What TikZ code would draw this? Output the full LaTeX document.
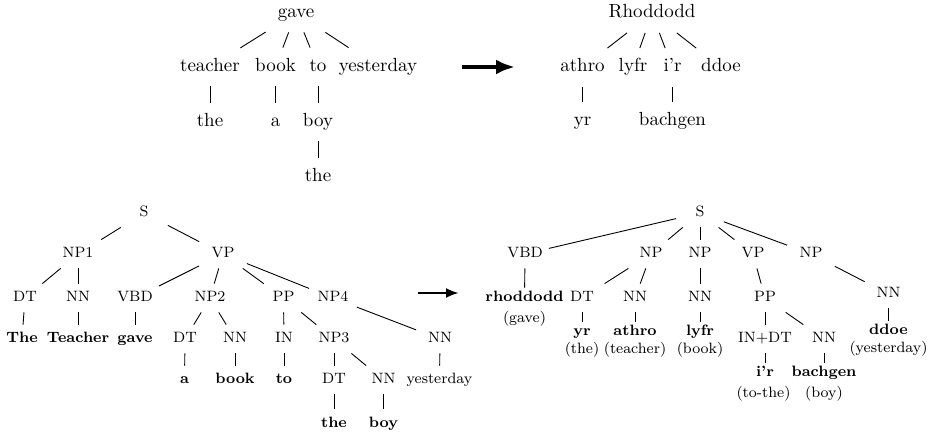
\documentclass[tikz,border=0pt]{standalone}
\usepackage{fontspec}
\usetikzlibrary{arrows.meta}
\begin{document}
\begin{tikzpicture}[x=0.5pt,y=-0.5pt,
  edge/.style={line width=0.45pt},
  tw/.style={font=\fontsize{9.5}{11}\selectfont, anchor=base, text height=7.25pt, text depth=2.75pt,
             inner ysep=4.5pt, inner xsep=0pt, minimum width=30pt},
  lw/.style={font=\fontsize{7.5}{9}\selectfont, anchor=base, text height=5.5pt, text depth=1.5pt,
             inner ysep=3.5pt, inner xsep=0pt, minimum width=23.5pt},
  lb/.style={lw, font=\fontsize{7.5}{9}\selectfont\bfseries},
  wd/.style={lb, text height=3.5pt},
  gl/.style={font=\fontsize{7.5}{9}\selectfont, anchor=base, inner sep=0pt},
  bigarrow/.style={line width=1.9pt, -{Latex[length=9.5pt,width=7.5pt]}},
  smallarrow/.style={line width=1.3pt, -{Latex[length=6.5pt,width=5pt]}}]
\useasboundingbox (0,0) rectangle (931,432);

% ---------- English dependency tree ----------
\node[tw] (tgave) at (296,17.5) {gave};
\node[tw] (tteacher) at (210,71.5) {teacher};
\node[tw] (tbook) at (275.5,71.5) {book};
\node[tw] (tto) at (318,71.5) {to};
\node[tw] (tyest) at (378,71.5) {yesterday};
\node[tw] (tthe) at (210,126.5) {the};
\node[tw] (ta) at (275.5,126.5) {a};
\node[tw] (tboy) at (318,126.5) {boy};
\node[tw] (tthetwo) at (318,181.5) {the};
\foreach \c in {tteacher,tbook,tto,tyest} \draw[edge] (tgave) -- (\c);
\draw[edge] (tteacher) -- (tthe);
\draw[edge] (tbook) -- (ta);
\draw[edge] (tto) -- (tboy);
\draw[edge] (tboy) -- (tthetwo);

% ---------- Welsh dependency tree ----------
\coordinate (arrAs) at (462,67);
\coordinate (arrAe) at (515,67);
\draw[bigarrow] (arrAs) -- (arrAe);
\node[tw] (wrh) at (652,18) {Rhoddodd};
\node[tw] (wathro) at (582.5,72) {athro};
\node[tw] (wlyfr) at (633,72) {lyfr};
\node[tw] (wir) at (672.5,72) {i'r};
\node[tw] (wddoe) at (721,72) {ddoe};
\node[tw] (wyr) at (582.5,126) {yr};
\node[tw] (wbach) at (672.5,126) {bachgen};
\foreach \c in {wathro,wlyfr,wir,wddoe} \draw[edge] (wrh) -- (\c);
\draw[edge] (wathro) -- (wyr);
\draw[edge] (wir) -- (wbach);

% ---------- English constituency tree ----------
\node[lw] (lS) at (144,217) {S};
\node[lw] (lNPa) at (78,258) {NP1};
\node[lw] (lVP) at (223,258) {VP};
\node[lw] (lDT) at (25,302) {DT};
\node[lw] (lNN) at (78,302) {NN};
\node[lw] (lVBD) at (135,302) {VBD};
\node[lw] (lNPb) at (210,302) {NP2};
\node[lw] (lPP) at (283.5,302) {PP};
\node[lw] (lNPd) at (333,302) {NP4};
\node[lb] (lThe) at (22,343) {The};
\node[lb] (lTeacher) at (78,343) {Teacher};
\node[lb] (lgave) at (135,343) {gave};
\node[lw] (lDTb) at (185,343) {DT};
\node[lw] (lNNb) at (235,343) {NN};
\node[lw] (lIN) at (284,343) {IN};
\node[lw] (lNPc) at (334,343) {NP3};
\node[lw] (lNNd) at (440,343) {NN};
\node[lb] (la) at (184.5,384) {a};
\node[lb] (lbook) at (235,384) {book};
\node[lb] (lto) at (284,384) {to};
\node[lw] (lDTc) at (334,384) {DT};
\node[lw] (lNNc) at (383.5,384) {NN};
\node[lw] (lyest) at (439.5,384) {yesterday};
\node[lb] (lthe) at (334,427) {the};
\node[lb] (lboy) at (383.5,427) {boy};
\draw[edge] (lS) -- (lNPa);
\draw[edge] (lS) -- (lVP);
\draw[edge] (lNPa) -- (lDT);
\draw[edge] (lNPa) -- (lNN);
\foreach \c in {lVBD,lNPb,lPP,lNPd} \draw[edge] (lVP) -- (\c);
\draw[edge] (lDT) -- (lThe);
\draw[edge] (lNN) -- (lTeacher);
\draw[edge] (lVBD) -- (lgave);
\draw[edge] (lNPb) -- (lDTb);
\draw[edge] (lNPb) -- (lNNb);
\draw[edge] (lPP) -- (lIN);
\draw[edge] (lPP) -- (lNPc);
\draw[edge] (lNPd) -- (lNNd);
\draw[edge] (lDTb) -- (la);
\draw[edge] (lNNb) -- (lbook);
\draw[edge] (lIN) -- (lto);
\draw[edge] (lNPc) -- (lDTc);
\draw[edge] (lNPc) -- (lNNc);
\draw[edge] (lNNd) -- (lyest);
\draw[edge] (lDTc) -- (lthe);
\draw[edge] (lNNc) -- (lboy);

% ---------- Welsh constituency tree ----------
\coordinate (arrBs) at (418,293);
\coordinate (arrBe) at (459,293);
\draw[smallarrow] (arrBs) -- (arrBe);
\node[lw] (rS) at (700,217) {S};
\node[lw] (rVBD) at (525,258) {VBD};
\node[lw] (rNPa) at (651,258) {NP};
\node[lw] (rNPb) at (700,258) {NP};
\node[lw] (rVP) at (753,258) {VP};
\node[lw] (rNPc) at (811,258) {NP};
\node[wd] (rrh) at (524.5,302) {rhoddodd};
\node[lw] (rDT) at (582,302) {DT};
\node[lw] (rNNa) at (635,302) {NN};
\node[lw] (rNNb) at (700,302) {NN};
\node[lw] (rPP) at (765,302) {PP};
\node[lw] (rNNc) at (888.5,298) {NN};
\node[wd] (ryr) at (582,336) {yr};
\node[wd] (rathro) at (635,336) {athro};
\node[wd] (rlyfr) at (700,336) {lyfr};
\node[wd] (rddoe) at (888.5,335) {ddoe};
\node[lw] (rINDT) at (765,343) {IN+DT};
\node[lw] (rNNd) at (824,343) {NN};
\node[wd] (rir) at (765,377) {i'r};
\node[wd] (rbach) at (824,377) {bachgen};
\node[gl] (ggave) at (524.5,323) {(gave)};
\node[gl] (gthe) at (582,354) {(the)};
\node[gl] (gteacher) at (635,354) {(teacher)};
\node[gl] (gbook) at (700,354) {(book)};
\node[gl] (gyest) at (888.5,353) {(yesterday)};
\node[gl] (gtothe) at (763.5,398) {(to-the)};
\node[gl] (gboy) at (824,398) {(boy)};
\foreach \c in {rVBD,rNPa,rNPb,rVP,rNPc} \draw[edge] (rS) -- (\c);
\draw[edge] (rVBD) -- (rrh);
\draw[edge] (rNPa) -- (rDT);
\draw[edge] (rNPa) -- (rNNa);
\draw[edge] (rNPb) -- (rNNb);
\draw[edge] (rVP) -- (rPP);
\draw[edge] (rNPc) -- (rNNc);
\draw[edge] (rDT) -- (ryr);
\draw[edge] (rNNa) -- (rathro);
\draw[edge] (rNNb) -- (rlyfr);
\draw[edge] (rNNc) -- (rddoe);
\draw[edge] (rPP) -- (rINDT);
\draw[edge] (rPP) -- (rNNd);
\draw[edge] (rINDT) -- (rir);
\draw[edge] (rNNd) -- (rbach);
\end{tikzpicture}
\end{document}
